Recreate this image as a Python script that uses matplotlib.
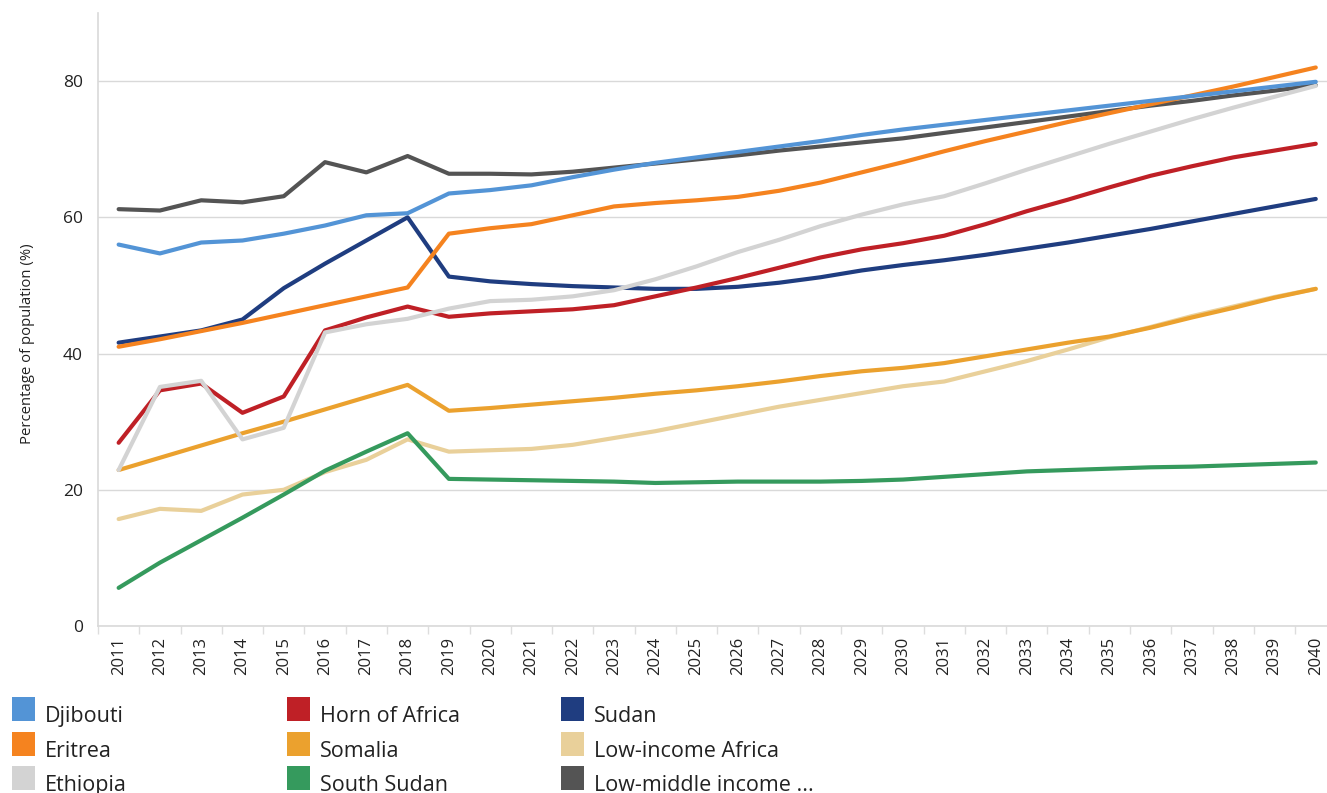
import matplotlib
matplotlib.use("Agg")
from matplotlib import pyplot as plt
from matplotlib.patches import Rectangle
import numpy as np

plt.rcParams["font.family"] = ["Open Sans", "DejaVu Sans"]

years = list(range(2011, 2041))

djibouti = [56.0, 54.7, 56.3, 56.6, 57.6, 58.8, 60.3, 60.6, 63.5, 64.0,
            64.7, 65.9, 67.0, 68.0, 68.8, 69.6, 70.4, 71.2, 72.1, 72.9,
            73.6, 74.3, 75.0, 75.7, 76.4, 77.1, 77.8, 78.5, 79.2, 79.9]
eritrea = [41.0, 42.1, 43.3, 44.5, 45.8, 47.1, 48.4, 49.7, 57.6, 58.4,
           59.0, 60.3, 61.6, 62.1, 62.5, 63.0, 63.9, 65.1, 66.6, 68.1,
           69.7, 71.2, 72.6, 74.0, 75.3, 76.6, 77.9, 79.2, 80.6, 82.0]
ethiopia = [22.9, 35.1, 36.0, 27.4, 29.1, 43.1, 44.3, 45.1, 46.6, 47.7,
            47.9, 48.4, 49.3, 50.9, 52.8, 54.9, 56.7, 58.7, 60.4, 61.9,
            63.1, 65.0, 67.0, 68.9, 70.8, 72.6, 74.4, 76.1, 77.7, 79.3]
horn = [26.9, 34.6, 35.6, 31.3, 33.7, 43.4, 45.3, 46.9, 45.4, 45.9,
        46.2, 46.5, 47.1, 48.4, 49.7, 51.1, 52.6, 54.1, 55.3, 56.2,
        57.3, 59.0, 60.9, 62.6, 64.4, 66.1, 67.5, 68.8, 69.8, 70.8]
somalia = [22.9, 24.7, 26.5, 28.3, 30.0, 31.8, 33.6, 35.4, 31.6, 32.0,
           32.5, 33.0, 33.5, 34.1, 34.6, 35.2, 35.9, 36.7, 37.4, 37.9,
           38.6, 39.6, 40.6, 41.6, 42.5, 43.8, 45.3, 46.7, 48.2, 49.5]
south_sudan = [5.6, 9.3, 12.6, 15.9, 19.3, 22.8, 25.6, 28.3, 21.6, 21.5,
               21.4, 21.3, 21.2, 21.0, 21.1, 21.2, 21.2, 21.2, 21.3, 21.5,
               21.9, 22.3, 22.7, 22.9, 23.1, 23.3, 23.4, 23.6, 23.8, 24.0]
sudan = [41.6, 42.5, 43.4, 45.0, 49.6, 53.2, 56.6, 60.0, 51.3, 50.6,
         50.2, 49.9, 49.7, 49.5, 49.5, 49.8, 50.4, 51.2, 52.2, 53.0,
         53.7, 54.5, 55.4, 56.3, 57.3, 58.3, 59.4, 60.5, 61.6, 62.7]
low_income = [15.7, 17.2, 16.9, 19.3, 20.0, 22.6, 24.4, 27.4, 25.6, 25.8,
              26.0, 26.6, 27.6, 28.6, 29.8, 31.0, 32.2, 33.2, 34.2, 35.2,
              35.9, 37.4, 38.9, 40.6, 42.4, 43.9, 45.5, 46.9, 48.3, 49.5]
low_middle = [61.2, 61.0, 62.5, 62.2, 63.1, 68.1, 66.6, 69.0, 66.4, 66.4,
              66.3, 66.7, 67.3, 67.9, 68.5, 69.1, 69.8, 70.4, 71.0, 71.6,
              72.4, 73.2, 74.0, 74.8, 75.6, 76.4, 77.1, 77.9, 78.6, 79.4]

names = ["Djibouti", "Eritrea", "Ethiopia", "Horn of Africa", "Somalia",
         "South Sudan", "Sudan", "Low-income Africa", "Low-middle income ..."]
series = [djibouti, eritrea, ethiopia, horn, somalia, south_sudan, sudan,
          low_income, low_middle]
colors = ["#5394d6", "#f5831f", "#d3d3d3", "#bf2026", "#eba12e",
          "#359a5d", "#1f3d80", "#e9d09a", "#545454"]

W, H = 1327, 793
fig = plt.figure(figsize=(W / 100, H / 100), dpi=100)
left, right, top, bottom = 98, 1337, 13, 626
ax = fig.add_axes([left / W, 1 - bottom / H, (right - left) / W, (bottom - top) / H])

# later legend entries are drawn underneath
for name, vals, c in reversed(list(zip(names, series, colors))):
    ax.plot(years, vals, color=c, lw=3, solid_capstyle="round", solid_joinstyle="round")

ax.set_xlim(2010.5, 2010.5 + (right - left) / 41.28)
ax.set_ylim(0, 90)
ax.set_yticks([0, 20, 40, 60, 80])
ax.set_xticks(years)
ax.set_xticklabels([str(y) for y in years], rotation=90)
ax.set_xticks(np.arange(2010.5, 2041, 1), minor=True)
ax.tick_params(axis="y", length=0, pad=11, labelsize=12.5, labelcolor="#222222")
ax.tick_params(axis="x", which="major", length=0, pad=8, labelsize=12, labelcolor="#222222")
ax.tick_params(axis="x", which="minor", length=6, color="#dddddd", width=1)
ax.grid(axis="y", color="#d9d9d9", lw=1)
ax.set_axisbelow(True)
for s in ["top", "right"]:
    ax.spines[s].set_visible(False)
for s in ["left", "bottom"]:
    ax.spines[s].set_color("#d9d9d9")
    ax.spines[s].set_linewidth(1.2)
ax.set_ylabel("Percentage of population (%)", fontsize=10.7, color="#222222")
ax.yaxis.set_label_coords(-0.051, 0.46)

# legend, three columns filled top to bottom
col_x = [12, 287, 561]
row_y = [697, 732, 766]
for i, (name, c) in enumerate(zip(names, colors)):
    cx = col_x[i // 3]
    cy = row_y[i % 3]
    fig.add_artist(Rectangle((cx / W, 1 - (cy + 24) / H), 23 / W, 24 / H,
                             transform=fig.transFigure, facecolor=c,
                             edgecolor="none"))
    fig.text((cx + 33) / W, 1 - (cy + 25) / H, name, fontsize=15.5,
             color="#222222", va="baseline", ha="left")

fig.savefig("out.png", dpi=100)
